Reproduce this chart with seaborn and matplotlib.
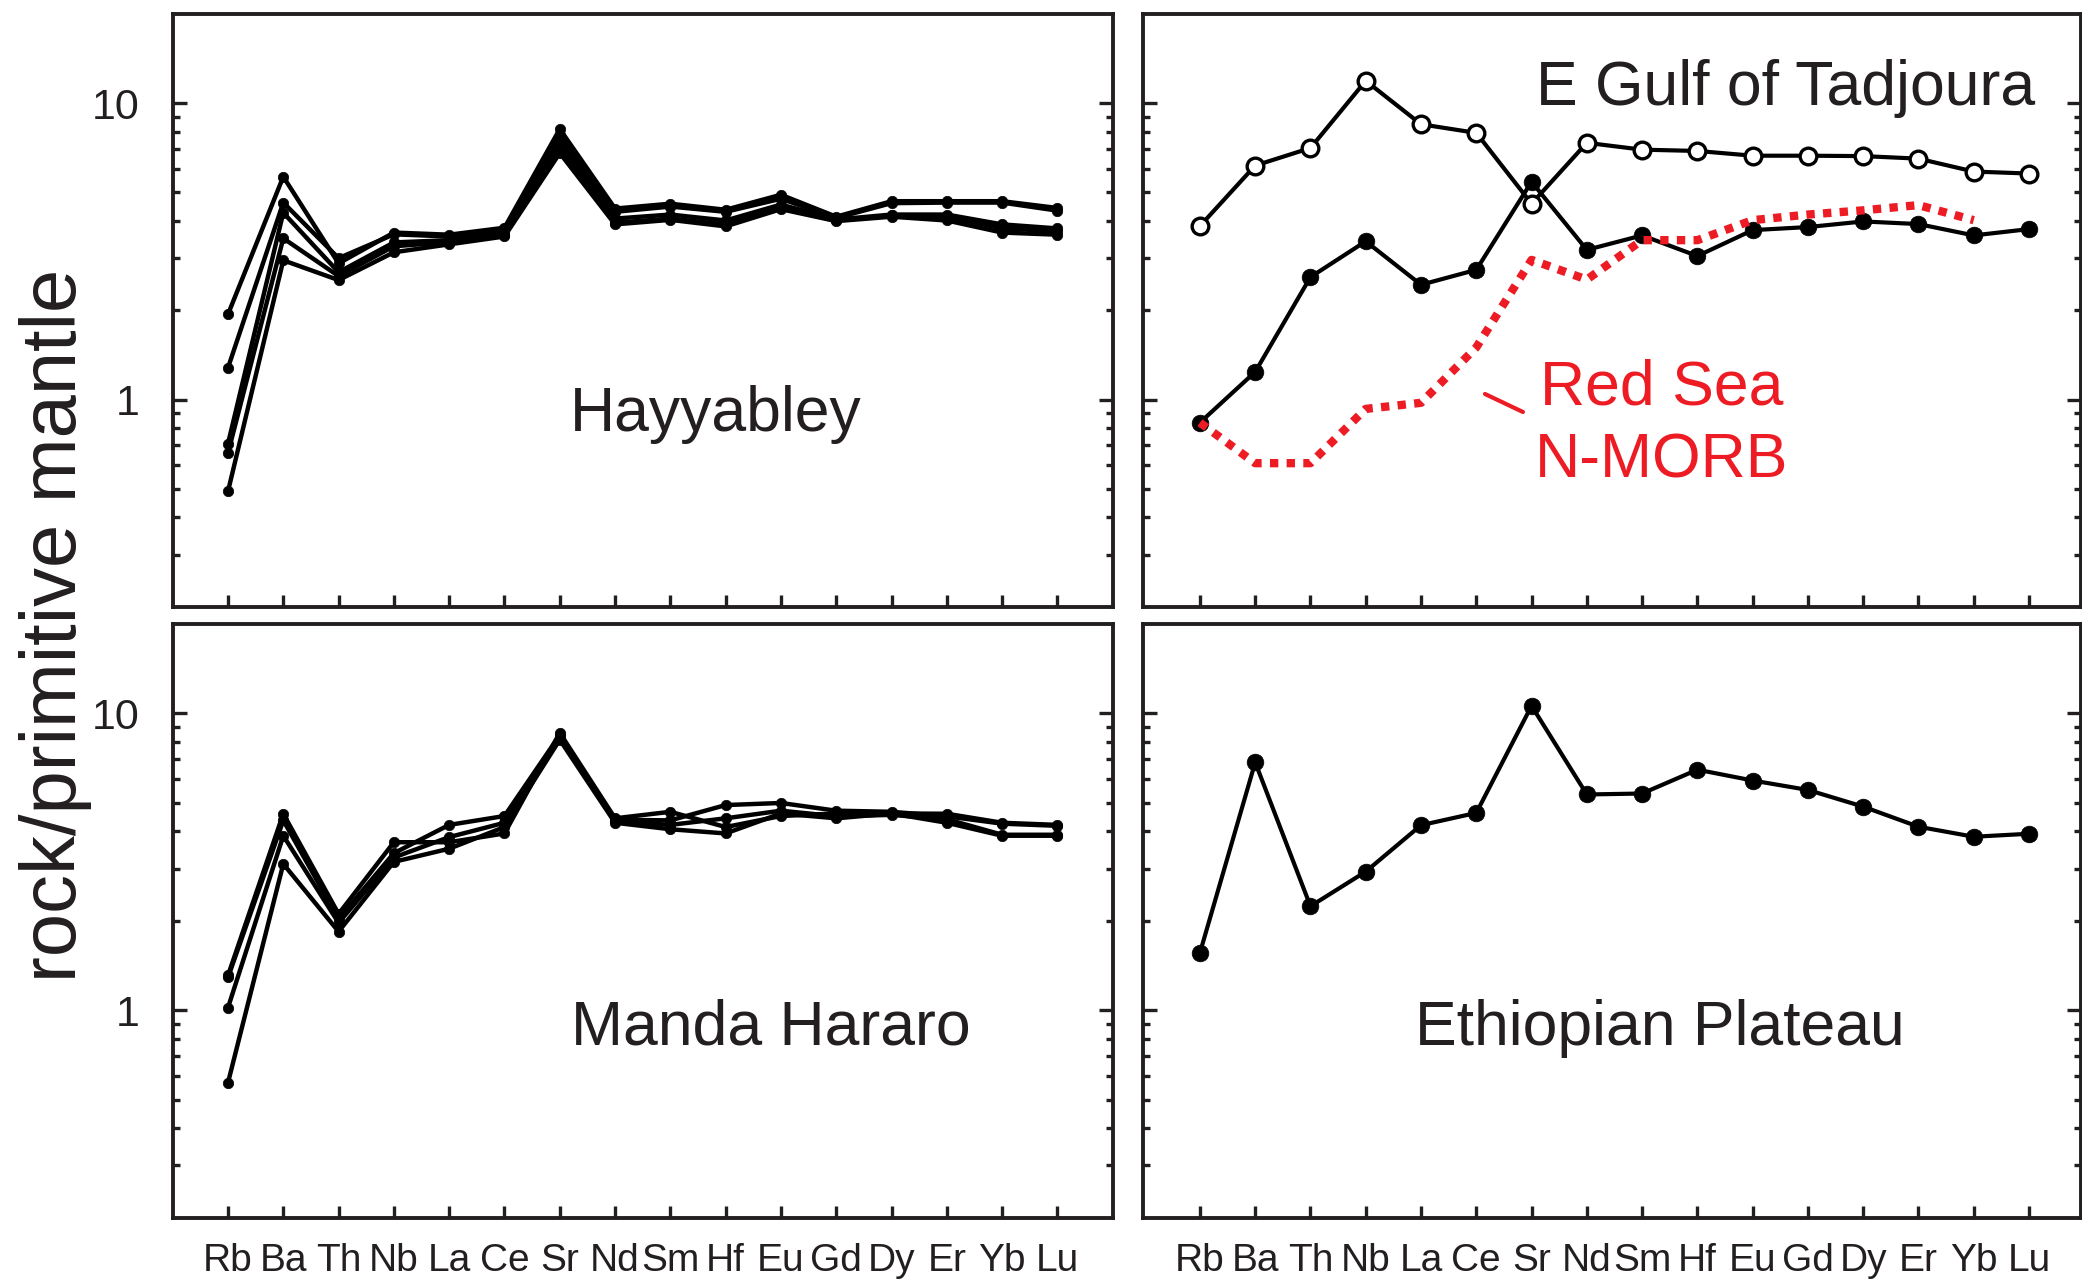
import numpy as np
import pandas as pd
import matplotlib
matplotlib.use("Agg")
import matplotlib.pyplot as plt
from matplotlib import font_manager
from matplotlib.ticker import NullFormatter
import seaborn as sns

sns.set_style('ticks')
plt.rcParams['font.family'] = ['Liberation Sans', 'DejaVu Sans']

# condensed face for tick labels if there is one
installed = {f.name for f in font_manager.fontManager.ttflist}
if 'Liberation Sans Narrow' in installed:
    tick_font, xtick_size, ytick_size = ['Liberation Sans Narrow', 'Liberation Sans'], 33, 33
else:
    tick_font, xtick_size, ytick_size = ['Liberation Sans', 'DejaVu Sans'], 28, 31

elements = ['Rb', 'Ba', 'Th', 'Nb', 'La', 'Ce', 'Sr', 'Nd', 'Sm', 'Hf',
            'Eu', 'Gd', 'Dy', 'Er', 'Yb', 'Lu']

# Hayyabley samples
hay_1 = [1.94, 5.65, 2.88, 3.66, 3.60, 3.80, 8.18, 4.41, 4.58, 4.37, 4.91, 4.14, 4.67, 4.67, 4.67, 4.43]
hay_2 = [1.28, 4.62, 3.00, 3.61, 3.55, 3.75, 7.80, 4.30, 4.48, 4.30, 4.76, 4.10, 4.60, 4.62, 4.62, 4.34]
hay_3 = [0.71, 4.27, 2.69, 3.39, 3.45, 3.66, 7.46, 4.08, 4.21, 4.02, 4.55, 4.05, 4.21, 4.21, 3.90, 3.78]
hay_4 = [0.66, 3.50, 2.61, 3.29, 3.40, 3.60, 7.10, 3.95, 4.08, 3.90, 4.45, 4.02, 4.18, 4.14, 3.78, 3.70]
hay_5 = [0.49, 2.95, 2.53, 3.14, 3.34, 3.55, 6.79, 3.90, 4.04, 3.84, 4.39, 4.00, 4.14, 4.02, 3.66, 3.60]

# Manda Hararo samples
manda_1 = [1.31, 4.59, 2.11, 3.68, 3.68, 3.94, 8.60, 4.43, 4.66, 4.14, 4.51, 4.60, 4.60, 4.59, 4.28, 4.21]
manda_2 = [1.29, 4.36, 2.03, 3.38, 4.21, 4.51, 8.45, 4.38, 4.36, 4.91, 4.99, 4.70, 4.66, 4.50, 4.25, 4.18]
manda_3 = [1.02, 3.87, 1.97, 3.27, 3.83, 4.28, 8.29, 4.33, 4.21, 4.43, 4.70, 4.50, 4.55, 4.40, 3.90, 3.90]
manda_4 = [0.57, 3.11, 1.84, 3.16, 3.50, 4.14, 8.15, 4.28, 4.07, 3.94, 4.60, 4.43, 4.60, 4.28, 3.87, 3.87]

# E Gulf of Tadjoura
tadj_open = [3.85, 6.16, 7.06, 11.9, 8.49, 7.94, 4.58, 7.35, 6.97, 6.90, 6.65, 6.65, 6.63, 6.50, 5.88, 5.79]
tadj_filled = [0.836, 1.24, 2.59, 3.42, 2.44, 2.74, 5.43, 3.20, 3.58, 3.05, 3.73, 3.82, 3.99, 3.91, 3.58, 3.76]
# Red Sea N-MORB (Rb..Yb)
red_sea = [0.836, 0.61, 0.61, 0.93, 0.975, 1.5, 2.96, 2.54, 3.45, 3.45, 4.03, 4.21, 4.35, 4.53, 4.03]

# Ethiopian Plateau
ethiopia = [1.56, 6.84, 2.24, 2.93, 4.20, 4.62, 10.6, 5.33, 5.37, 6.46, 5.94, 5.52, 4.85, 4.15, 3.84, 3.93]

red = '#ED1C24'
ink = '#231f20'


def long_df(series):
    rows = []
    for name, vals in series.items():
        for i, v in enumerate(vals):
            rows.append({'sample': name, 'pos': i, 'element': elements[i], 'value': v})
    return pd.DataFrame(rows)


hay_df = long_df({'h1': hay_1, 'h2': hay_2, 'h3': hay_3, 'h4': hay_4, 'h5': hay_5})
manda_df = long_df({'m1': manda_1, 'm2': manda_2, 'm3': manda_3, 'm4': manda_4})
open_df = long_df({'open': tadj_open})
filled_df = long_df({'filled': tadj_filled})
red_df = long_df({'morb': red_sea})
eth_df = long_df({'eth': ethiopia})

fig = plt.figure(figsize=(20.82, 12.86), dpi=100)
ax_tl = fig.add_axes([0.08295, 0.52823, 0.45149, 0.46089])
ax_bl = fig.add_axes([0.08295, 0.05311, 0.45149, 0.46167])
ax_tr = fig.add_axes([0.54899, 0.52823, 0.45038, 0.46089])
ax_br = fig.add_axes([0.54899, 0.05311, 0.45038, 0.46167])

small = dict(color='black', lw=3.2, marker='o', markersize=7.5,
             markeredgecolor='black', markeredgewidth=0.5, legend=False)
big = dict(color='black', lw=3.0, marker='o', markersize=12,
           markeredgecolor='black', markeredgewidth=0.5, legend=False)

sns.lineplot(data=hay_df, x='pos', y='value', units='sample', estimator=None, ax=ax_tl, **small)
sns.lineplot(data=manda_df, x='pos', y='value', units='sample', estimator=None, ax=ax_bl, **small)

sns.lineplot(data=open_df, x='pos', y='value', units='sample', estimator=None, ax=ax_tr,
             color='black', lw=3.0, marker='o', markersize=12, markerfacecolor='white',
             markeredgecolor='black', markeredgewidth=2.4, legend=False, zorder=3)
sns.lineplot(data=filled_df, x='pos', y='value', units='sample', estimator=None, ax=ax_tr,
             zorder=3, **big)
sns.lineplot(data=red_df, x='pos', y='value', units='sample', estimator=None, ax=ax_tr,
             color=red, lw=6, linestyle=(0, (1, 1)), legend=False, zorder=4)

sns.lineplot(data=eth_df, x='pos', y='value', units='sample', estimator=None, ax=ax_br, **big)

minor_y = [0.3, 0.4, 0.5, 0.6, 0.7, 0.8, 0.9, 2, 3, 4, 5, 6, 7, 8, 9]
for ax in [ax_tl, ax_bl, ax_tr, ax_br]:
    ax.set_yscale('log')
    ax.set_ylim(0.2, 20)
    if ax in (ax_tl, ax_bl):
        ax.set_xlim(-1.0, 16.0)
    else:
        ax.set_xlim(-1.03, 15.935)
    ax.set_yticks([1, 10], labels=['1', '10'])
    ax.set_yticks(minor_y, minor=True)
    ax.yaxis.set_minor_formatter(NullFormatter())
    ax.set_xticks(range(len(elements)), labels=elements)
    ax.set_xlabel('')
    ax.set_ylabel('')
    for s in ax.spines.values():
        s.set_visible(True)
        s.set_linewidth(2.8)
        s.set_color(ink)
    ax.tick_params(axis='y', which='major', direction='in', left=True, right=True,
                   length=10, width=2.4, pad=24, labelsize=ytick_size, color=ink)
    ax.tick_params(axis='y', which='minor', direction='in', left=True, right=True,
                   length=5, width=2.4, color=ink)
    ax.tick_params(axis='x', which='both', direction='in', top=False, bottom=True,
                   length=9, width=2.4, pad=18, labelsize=xtick_size, color=ink)
    for lab in ax.get_xticklabels() + ax.get_yticklabels():
        lab.set_family(tick_font)
        lab.set_color(ink)

ax_tl.tick_params(labelbottom=False)
ax_tr.tick_params(labelbottom=False, labelleft=False)
ax_br.tick_params(labelleft=False)

lab_kw = dict(fontsize=45, color=ink, va='baseline')
ax_tl.text(0.578, 0.296, 'Hayyabley', ha='center', transform=ax_tl.transAxes, **lab_kw)
ax_bl.text(0.6365, 0.291, 'Manda Hararo', ha='center', transform=ax_bl.transAxes, **lab_kw)
ax_br.text(0.5513, 0.291, 'Ethiopian Plateau', ha='center', transform=ax_br.transAxes, **lab_kw)
ax_tr.text(0.951, 0.8465, 'E Gulf of Tadjoura', ha='right', transform=ax_tr.transAxes, **lab_kw)

ax_tr.text(0.5535, 0.3403, 'Red Sea', ha='center', va='baseline', fontsize=45, color=red,
           transform=ax_tr.transAxes)
ax_tr.text(0.5535, 0.2188, 'N-MORB', ha='center', va='baseline', fontsize=45, color=red,
           transform=ax_tr.transAxes)
ax_tr.annotate('', xy=(0.3647, 0.3589), xytext=(0.4052, 0.3285), xycoords='axes fraction',
               textcoords='axes fraction',
               arrowprops=dict(arrowstyle='-', color=red, lw=3, shrinkA=0, shrinkB=0))

fig.text(56 / 2082, 1 - 625 / 1286, 'rock/primitive mantle', rotation=90, ha='center',
         va='center', fontsize=56, color=ink)

fig.savefig('out.png', dpi=100)
